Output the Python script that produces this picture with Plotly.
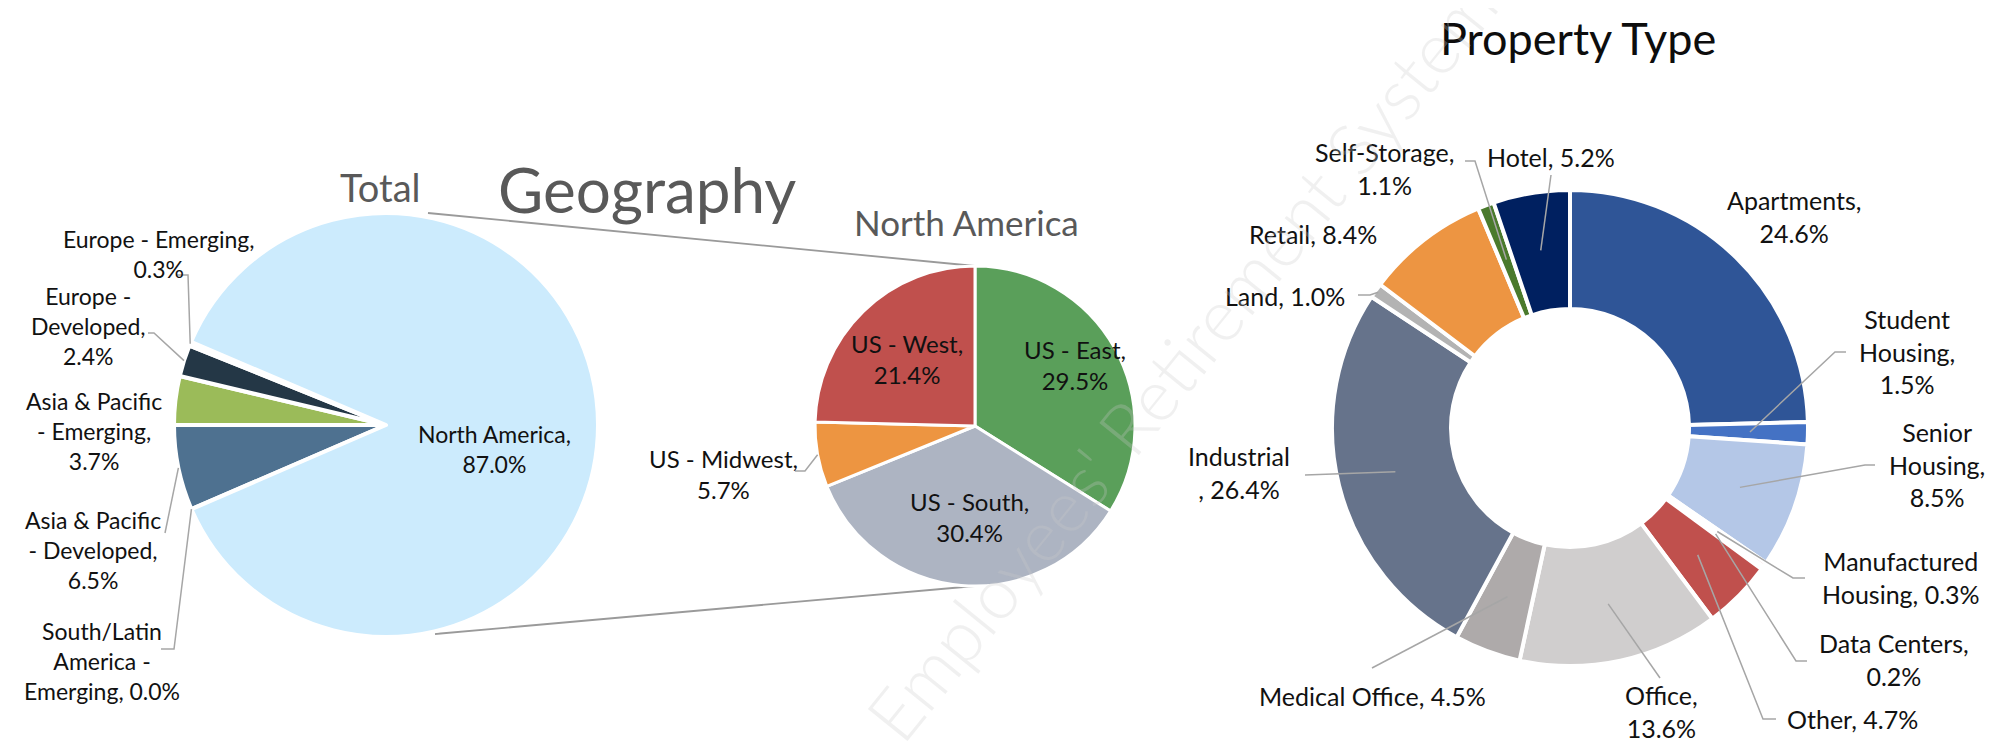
import math

import plotly.graph_objects as go

W, H = 2001, 743

# ---- data -------------------------------------------------------------
total_labels = ["South/Latin America - Emerging", "Asia & Pacific - Developed",
                "Asia & Pacific - Emerging", "Europe - Developed",
                "Europe - Emerging", "North America"]
total_values = [0.0, 6.5, 3.7, 2.4, 0.3, 87.0]
total_colors = ["#7F7F7F", "#4E7190", "#9BBB59", "#243746", "#4BACC6", "#CCEBFD"]

na_labels = ["US - East", "US - South", "US - Midwest", "US - West"]
na_values = [29.5, 30.4, 5.7, 21.4]
na_colors = ["#5A9F5A", "#ADB4C2", "#ED9541", "#C0504D"]

prop_labels = ["Apartments", "Student Housing", "Senior Housing", "Manufactured Housing",
               "Data Centers", "Other", "Office", "Medical Office", "Industrial",
               "Land", "Retail", "Self-Storage", "Hotel"]
prop_values = [24.6, 1.5, 8.5, 0.3, 0.2, 4.7, 13.6, 4.5, 26.4, 1.0, 8.4, 1.1, 5.2]
prop_colors = ["#2F5597", "#4472C4", "#B4C7E7", "#F4CCCC", "#E7E6E6", "#C0504D",
               "#D0CECE", "#AEAAAA", "#66738B", "#B3B3B3", "#ED9542", "#4A7A2C", "#002060"]

# how each data label is broken into lines ({p} = percentage)
total_text = ["South/Latin<br>America -<br>Emerging, {p}", "Asia & Pacific<br>- Developed,<br>{p}",
              "Asia & Pacific<br>- Emerging,<br>{p}", "Europe -<br>Developed,<br>{p}",
              "Europe - Emerging,<br>{p}", "North America,<br>{p}"]
na_text = ["US - East,<br>{p}", "US - South,<br>{p}", "US - Midwest,<br>{p}", "US - West,<br>{p}"]
prop_text = ["Apartments,<br>{p}", "Student<br>Housing,<br>{p}", "Senior<br>Housing,<br>{p}",
             "Manufactured<br>Housing, {p}", "Data Centers,<br>{p}", "Other, {p}",
             "Office,<br>{p}", "Medical Office, {p}", "Industrial<br>, {p}", "Land, {p}",
             "Retail, {p}", "Self-Storage,<br>{p}", "Hotel, {p}"]

# ---- layout geometry (pixels) -----------------------------------------
L = dict(cx=378, cy=417, r=212, rot=246.6)
M = dict(cx=967, cy=418, r=160, rot=0)
D = dict(cx=1562, cy=420, r=238, rot=0)

# label centres (px) and leader lines: (anchor, elbow, radius of end point)
total_pos = [(94, 653), (85, 542), (86, 423), (80, 318), (151, 246), (486, 441)]
total_lead = [((153, 641), (166, 641), 212), ((157, 525), None, 212), None,
              ((140, 325), (146, 325), 212), ((168, 267), (180, 267), 212), None]
na_pos = [(1067, 357), (961, 509), (715, 466), (899, 351)]
na_lead = [None, None, ((787, 463), (797, 463), 160), None]
prop_pos = [(1786, 208), (1899, 343), (1929, 456), (1893, 569), (1886, 651), (1844, 711),
            (1653, 703), (1364, 688), (1231, 465), (1277, 288), (1305, 226), (1376, 161),
            (1543, 149)]
prop_lead = [None, ((1838, 344), (1827, 344), 180), ((1867, 457), (1857, 457), 180),
             ((1797, 570), (1785, 570), 180), ((1799, 653), (1788, 653), 180),
             ((1768, 711), (1755, 711), 180), ((1652, 670), None, 180),
             ((1364, 660), None, 180), ((1297, 467), None, 180),
             ((1350, 287), (1362, 287), 235), None, ((1457, 153), (1467, 153), 180),
             ((1543, 167), None, 180)]

FONT = "Lato, 'Open Sans', sans-serif"
GREY_LINE = "#A6A6A6"


def px(x, y):
    return x / W, 1 - y / H


def domain(g):
    return dict(x=[(g["cx"] - g["r"]) / W, (g["cx"] + g["r"]) / W],
                y=[1 - (g["cy"] + g["r"]) / H, 1 - (g["cy"] - g["r"]) / H])


def slice_point(values, i, g, r):
    tot = sum(values)
    mid = (sum(values[:i]) + values[i] / 2) / tot * 360 + g["rot"]
    a = math.radians(mid)
    return g["cx"] + r * math.sin(a), g["cy"] - r * math.cos(a)


fig = go.Figure()
fig.add_trace(go.Pie(labels=total_labels, values=total_values, sort=False,
                     direction="clockwise", rotation=L["rot"], domain=domain(L),
                     marker=dict(colors=total_colors, line=dict(color="white", width=4)),
                     textinfo="none", showlegend=False))
fig.add_trace(go.Pie(labels=na_labels, values=na_values, sort=False,
                     direction="clockwise", rotation=M["rot"], domain=domain(M),
                     marker=dict(colors=na_colors, line=dict(color="white", width=3)),
                     textinfo="none", showlegend=False))
fig.add_trace(go.Pie(labels=prop_labels, values=prop_values, sort=False, hole=0.5,
                     direction="clockwise", rotation=D["rot"], domain=domain(D),
                     marker=dict(colors=prop_colors, line=dict(color="white", width=4)),
                     textinfo="none", showlegend=False))

annotations = []
shapes = []


def add_labels(values, texts, positions, leads, g, size):
    for i, v in enumerate(values):
        x, y = px(*positions[i])
        annotations.append(dict(x=x, y=y, xref="paper", yref="paper", showarrow=False,
                                text=texts[i].format(p=f"{v:.1f}%"), align="center",
                                xanchor="center", yanchor="middle",
                                font=dict(family=FONT, size=size, color="#111111")))
        if leads[i]:
            anchor, elbow, rr = leads[i]
            pts = [anchor] + ([elbow] if elbow else []) + [slice_point(values, i, g, rr)]
            path = "M " + " L ".join(f"{px(a, b)[0]:.5f} {px(a, b)[1]:.5f}" for a, b in pts)
            shapes.append(dict(type="path", path=path, xref="paper", yref="paper",
                               line=dict(color=GREY_LINE, width=1.5)))


add_labels(total_values, total_text, total_pos, total_lead, L, 23)
add_labels(na_values, na_text, na_pos, na_lead, M, 24)
add_labels(prop_values, prop_text, prop_pos, prop_lead, D, 25)

# series lines between the two geography pies
for (x0, y0), (x1, y1) in [((L["cx"] + 42, L["cy"] - L["r"]), (M["cx"], M["cy"] - M["r"])),
                           ((L["cx"] + 49, L["cy"] + L["r"] - 3), (M["cx"], M["cy"] + M["r"]))]:
    a, b = px(x0, y0)
    c, d = px(x1, y1)
    shapes.append(dict(type="line", x0=a, y0=b, x1=c, y1=d, xref="paper", yref="paper",
                       layer="below", line=dict(color="#9A9A9A", width=1.8)))

# titles
for text, (x, y), size, color in [("Total", (372, 179), 38, "#595959"),
                                  ("Geography", (639, 181), 62, "#595959"),
                                  ("North America", (958, 214), 35, "#595959"),
                                  ("Property Type", (1570, 30), 45, "#0D0D0D")]:
    a, b = px(x, y)
    annotations.append(dict(x=a, y=b, xref="paper", yref="paper", showarrow=False, text=text,
                            xanchor="center", yanchor="middle",
                            font=dict(family=FONT, size=size, color=color)))

# watermark
a, b = px(1172, 352)
annotations.append(dict(x=a, y=b, xref="paper", yref="paper", showarrow=False,
                        text="Employees' Retirement System", textangle=-51,
                        xanchor="center", yanchor="middle",
                        font=dict(family=FONT, size=72, weight=300,
                                  color="rgba(200,200,200,0.28)")))

fig.update_layout(width=W, height=H, margin=dict(l=0, r=0, t=0, b=0),
                  paper_bgcolor="white", plot_bgcolor="white",
                  annotations=annotations, shapes=shapes)

fig.write_html("out.html")
